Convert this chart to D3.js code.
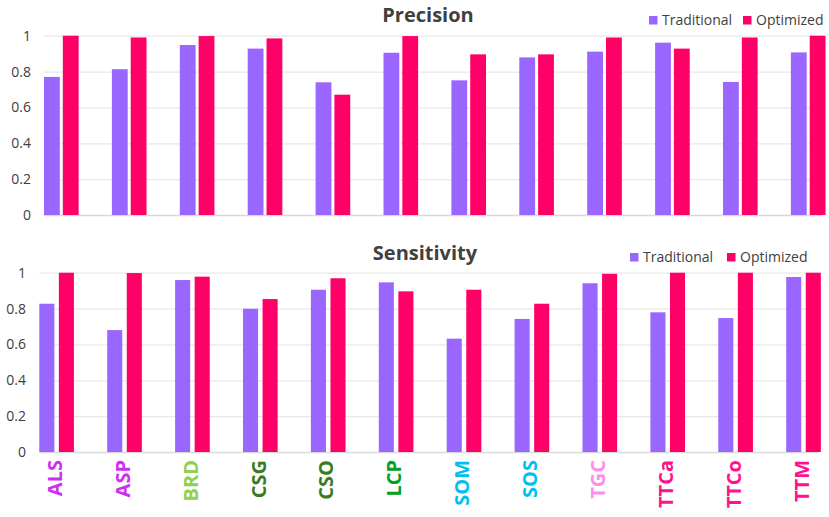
<!DOCTYPE html>
<html>
<head>
<meta charset="utf-8">
<script src="https://cdn.jsdelivr.net/npm/d3@7"></script>
<style>
  body { margin: 0; background: #fff; }
  svg { display: block; font-family: 'Open Sans', 'Noto Sans', sans-serif; }
</style>
</head>
<body>
<div id="chart"></div>
<script>
const categories = ['ALS', 'ASP', 'BRD', 'CSG', 'CSO', 'LCP', 'SOM', 'SOS', 'TGC', 'TTCa', 'TTCo', 'TTM'];
const labelColors = ['#d02cf5', '#d02cf5', '#92d050', '#3b7a1e', '#3b7a1e', '#00a020',
                     '#00bff0', '#00bff0', '#ff8eea', '#ff1190', '#ff1190', '#ff1190'];
const seriesNames = ['Traditional', 'Optimized'];
const seriesColors = ['#9966ff', '#ff0066'];

const precisionTraditional = [0.77, 0.813, 0.948, 0.928, 0.74, 0.905, 0.751, 0.879, 0.911, 0.961, 0.742, 0.907];
const precisionOptimized   = [1.0, 0.99, 0.998, 0.985, 0.671, 0.998, 0.896, 0.896, 0.99, 0.928, 0.99, 1.0];
const sensitivityTraditional = [0.827, 0.68, 0.959, 0.799, 0.905, 0.946, 0.632, 0.742, 0.941, 0.779, 0.747, 0.976];
const sensitivityOptimized   = [1.0, 0.998, 0.978, 0.853, 0.969, 0.896, 0.905, 0.827, 0.994, 1.0, 1.0, 1.0];
const yTicks = [0, 0.2, 0.4, 0.6, 0.8, 1];

const width = 829;
const height = 517;

const svg = d3.select('#chart')
  .append('svg')
  .attr('width', width)
  .attr('height', height);

// one panel = title + legend + grid + grouped bars
const drawPanel = function(cfg) {
  const g = svg.append('g');
  const step = 67.9;

  const x0 = d3.scaleBand()
    .domain(categories)
    .range([cfg.left, cfg.left + step * (categories.length - 0.49)])
    .paddingInner(0.49)
    .paddingOuter(0);

  const x1 = d3.scaleBand()
    .domain(seriesNames)
    .range([0, x0.bandwidth()])
    .paddingInner(cfg.innerPad);

  const y = d3.scaleLinear().domain([0, 1]).range([cfg.bottom, cfg.top]);

  // gridlines
  g.append('g')
    .attr('transform', `translate(${cfg.left},0)`)
    .call(d3.axisLeft(y).tickValues(yTicks).tickSize(-(cfg.right - cfg.left)).tickFormat(''))
    .call(s => s.select('.domain').remove())
    .call(s => s.selectAll('.tick line').attr('stroke', d => d === 0 ? '#d9d9d9' : '#e8e8e8').attr('stroke-width', d => d === 0 ? 1.5 : 1.2));

  // tick labels
  g.append('g')
    .attr('transform', `translate(${cfg.labelX},0)`)
    .call(d3.axisLeft(y).tickValues(yTicks).tickSize(0).tickPadding(0).tickFormat(d3.format('~g')))
    .call(s => s.select('.domain').remove())
    .call(s => s.selectAll('text').attr('fill', '#404040').style('font-size', '14px').style('font-family', "'Open Sans', sans-serif"));

  // bars
  const rows = categories.map((c, i) => ({ cat: c, vals: [cfg.values[0][i], cfg.values[1][i]] }));
  const groups = g.selectAll('.grp')
    .data(rows)
    .enter()
    .append('g')
    .attr('transform', d => `translate(${x0(d.cat)},0)`);

  groups.selectAll('rect')
    .data(d => d.vals.map((v, k) => ({ key: seriesNames[k], v: v, k: k })))
    .enter()
    .append('rect')
    .attr('x', d => x1(d.key))
    .attr('y', d => y(d.v))
    .attr('width', x1.bandwidth())
    .attr('height', d => y(0) - y(d.v))
    .attr('fill', d => seriesColors[d.k]);

  // title
  g.append('text')
    .attr('x', cfg.titleX)
    .attr('y', cfg.titleY)
    .attr('text-anchor', 'middle')
    .attr('fill', '#404040')
    .style('font-size', '20px')
    .style('font-weight', 'bold')
    .text(cfg.title);

  // legend
  const leg = g.append('g').attr('transform', `translate(${cfg.legendX},${cfg.legendY})`);
  const offs = [0, cfg.legendGap];
  seriesNames.forEach((name, k) => {
    leg.append('rect')
      .attr('x', offs[k])
      .attr('y', -8.5)
      .attr('width', 8.5)
      .attr('height', 8.5)
      .attr('fill', seriesColors[k]);
    leg.append('text')
      .attr('x', offs[k] + 13)
      .attr('y', 0)
      .attr('fill', '#404040')
      .style('font-size', '14px')
      .text(name);
  });

  // category labels (bottom panel only)
  if (cfg.catLabels) {
    g.selectAll('.cat')
      .data(categories)
      .enter()
      .append('text')
      .attr('transform', d => `translate(${x0(d) + x0.bandwidth() / 2 - 2},${cfg.catY}) rotate(-90)`)
      .attr('text-anchor', 'end')
      .attr('dy', '0.36em')
      .attr('fill', (d, i) => labelColors[i])
      .style('font-size', '20px')
      .style('font-weight', 'bold')
      .text(d => d);
  }
};

drawPanel({
  title: 'Precision',
  values: [precisionTraditional, precisionOptimized],
  left: 44, right: 823, top: 35.7, bottom: 215,
  innerPad: 0.16, labelX: 31,
  titleX: 428, titleY: 22,
  legendX: 649, legendY: 24.5, legendGap: 94,
  catLabels: false
});

drawPanel({
  title: 'Sensitivity',
  values: [sensitivityTraditional, sensitivityOptimized],
  left: 39.3, right: 818, top: 272.7, bottom: 452,
  innerPad: 0.23, labelX: 26,
  titleX: 425, titleY: 260,
  legendX: 630, legendY: 261.5, legendGap: 97,
  catLabels: true, catY: 460
});
</script>
</body>
</html>
